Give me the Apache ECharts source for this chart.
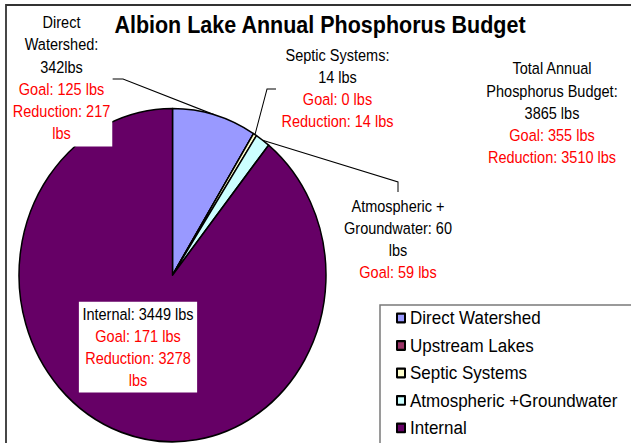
<!DOCTYPE html>
<html>
<head>
<meta charset="utf-8">
<script src="https://cdn.jsdelivr.net/npm/echarts@6/dist/echarts.min.js"></script>
<style>
  html, body { margin: 0; padding: 0; background: #fff; }
  #wrap { width: 631px; height: 443px; overflow: hidden; position: relative; background: #fff; }
  #chart { width: 631px; height: 408px; transform: scaleY(1.08578); transform-origin: 0 0; }
</style>
</head>
<body>
<div id="wrap"><div id="chart"></div></div>
<script>
// ---- data ----
const categories = ['Direct Watershed', 'Upstream Lakes', 'Septic Systems', 'Atmospheric +Groundwater', 'Internal'];
const loads = [342, 0, 14, 60, 3449];          // lbs per year
const goals = [125, null, 0, 59, 171];         // goal lbs
const reductions = [217, null, 14, null, 3278]; // reduction lbs
const totalLoad = 3865;
const totalGoal = 355;
const totalReduction = 3510;
const sliceColors = ['#9999FF', '#993366', '#FFFFCC', '#CCFFFF', '#660066'];

const FONT = '"Liberation Sans", Arial, sans-serif';
const richStyles = {
  k: { color: '#000', fontSize: 14.5, fontWeight: 'normal', lineHeight: 20.4, align: 'center', fontFamily: FONT },
  r: { color: '#ff0000', fontSize: 14.5, fontWeight: 'normal', lineHeight: 20.4, align: 'center', fontFamily: FONT }
};
function rich(blackLines, redLines) {
  return blackLines.map(s => '{k|' + s + '}').concat(redLines.map(s => '{r|' + s + '}')).join('\n');
}
function sliceLabel(i) {
  const v = loads[i], g = goals[i], r = reductions[i];
  switch (i) {
    case 0: return rich(['Direct', 'Watershed:', v + 'lbs'], ['Goal: ' + g + ' lbs', 'Reduction: ' + r, 'lbs']);
    case 2: return rich(['Septic Systems:', v + ' lbs'], ['Goal: ' + g + ' lbs', 'Reduction: ' + r + ' lbs']);
    case 3: return rich(['Atmospheric +', 'Groundwater: ' + v, 'lbs'], ['Goal: ' + g + ' lbs']);
    case 4: return rich(['Internal: ' + v + ' lbs'], ['Goal: ' + g + ' lbs', 'Reduction: ' + r, 'lbs']);
  }
  return '';
}

// label placement (chart coordinates before vertical stretch)
const labelPlace = {
  0: { x: 59.5, y: 71.8, line: [[123, 72.8], [112.5, 72.8]] },
  2: { x: 337.5, y: 81.5, line: [[267, 82], [276, 82]] },
  3: { x: 398, y: 220.6, line: [[398, 167.6], [398, 176.8]] },
  4: { x: 138, y: 319.6 }
};

const pieData = categories.map((name, i) => {
  const item = { name: name, value: loads[i], itemStyle: { color: sliceColors[i] } };
  if (i === 1) {
    item.label = { show: false };
    item.labelLine = { show: false };
  }
  if (i === 0) {
    item.label = { backgroundColor: '#fff', padding: [2, 2, 2, 6] };
  }
  if (i === 4) {
    item.label = { backgroundColor: '#fff', padding: [1, 3.5, 1, 3.5] };
    item.labelLine = { show: false };
  }
  return item;
});

const chart = echarts.init(document.getElementById('chart'), null, { renderer: 'svg' });
chart.setOption({
  animation: false,
  backgroundColor: '#fff',
  textStyle: { fontFamily: FONT },
  title: [
    {
      text: 'Albion Lake Annual Phosphorus Budget',
      left: 320, top: 12.3, textAlign: 'center', padding: 0,
      textStyle: { fontSize: 21.5, fontWeight: 'bold', color: '#000', fontFamily: FONT }
    },
    {
      text: rich(['Total Annual', 'Phosphorus Budget:', totalLoad + ' lbs'],
                 ['Goal: ' + totalGoal + ' lbs', 'Reduction: ' + totalReduction + ' lbs']),
      left: 552, top: 53.1, textAlign: 'center', padding: 0,
      textStyle: { fontSize: 14.5, fontWeight: 'normal', lineHeight: 20.4, color: '#000', fontFamily: FONT, rich: richStyles }
    }
  ],
  legend: {
    orient: 'vertical',
    left: 380, top: 280.9, width: 400, height: 300,
    padding: [3, 80, 80, 16],
    itemGap: 7.3, itemWidth: 8, itemHeight: 8,
    icon: 'rect',
    borderColor: '#7a7a7a', borderWidth: 1.5,
    backgroundColor: '#fff',
    selectedMode: false,
    textStyle: { fontSize: 17, lineHeight: 18, color: '#000', fontFamily: FONT },
    data: categories
  },
  graphic: [
    {
      type: 'rect', z: 100, silent: true,
      shape: { x: 6, y: 4.6, width: 700, height: 500 },
      style: { fill: 'none', stroke: '#333', lineWidth: 1.8 }
    }
  ],
  series: [{
    type: 'pie',
    center: [172.5, 253.4],
    radius: 153.5,
    startAngle: 90,
    clockwise: true,
    avoidLabelOverlap: false,
    emphasis: { disabled: true },
    itemStyle: { borderColor: '#000', borderWidth: 1.5 },
    label: {
      show: true,
      position: 'outside',
      formatter: p => sliceLabel(p.dataIndex),
      rich: richStyles,
      fontFamily: FONT
    },
    labelLine: { show: true, length: 10, length2: 10, lineStyle: { color: '#000', width: 1 } },
    labelLayout: function (params) {
      const pl = labelPlace[params.dataIndex];
      if (!pl) return {};
      const out = { x: pl.x, y: pl.y, align: 'center', verticalAlign: 'middle' };
      if (pl.line && params.labelLinePoints) {
        out.labelLinePoints = [params.labelLinePoints[0]].concat(pl.line);
      }
      return out;
    },
    data: pieData
  }]
});
</script>
</body>
</html>
